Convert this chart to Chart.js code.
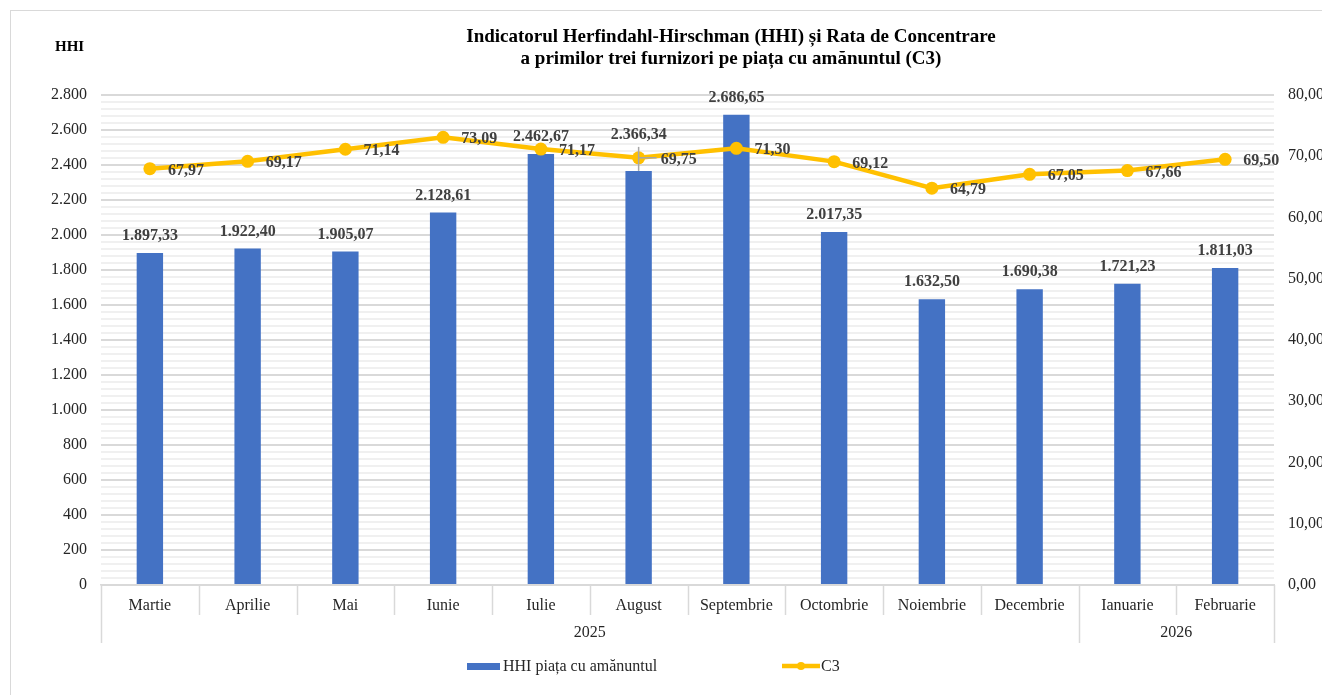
<!DOCTYPE html>
<html>
<head>
<meta charset="utf-8">
<script src="https://cdn.jsdelivr.net/npm/chart.js@4.4.1/dist/chart.umd.min.js"></script>
<style>
  html, body { margin: 0; padding: 0; background: #fff; overflow: hidden; }
  canvas { display: block; }
</style>
</head>
<body>
<canvas id="chart" width="1322" height="695"></canvas>
<script>
var months = ['Martie', 'Aprilie', 'Mai', 'Iunie', 'Iulie', 'August', 'Septembrie',
              'Octombrie', 'Noiembrie', 'Decembrie', 'Ianuarie', 'Februarie'];
var years = [{ label: '2025', from: 0, to: 9 }, { label: '2026', from: 10, to: 11 }];
var hhi = [1897.33, 1922.40, 1905.07, 2128.61, 2462.67, 2366.34, 2686.65,
           2017.35, 1632.50, 1690.38, 1721.23, 1811.03];
var c3 = [67.97, 69.17, 71.14, 73.09, 71.17, 69.75, 71.30, 69.12, 64.79, 67.05, 67.66, 69.50];
var titleLines = ['Indicatorul Herfindahl-Hirschman (HHI) și Rata de Concentrare',
                  'a primilor trei furnizori pe piața cu amănuntul (C3)'];

var BLUE = '#4472C4', GOLD = '#FFC000', GRID = '#d9d9d9', MINOR = '#f0f0f0';
var SERIF = "'Liberation Serif', 'Times New Roman', serif";

// 1.897,33 style numbers
function fmt(v, dec) {
    var parts = v.toFixed(dec).split('.');
    parts[0] = parts[0].replace(/\B(?=(\d{3})+(?!\d))/g, '.');
    return parts.join(',');
}

// chart frame, title and the small "HHI" label
var framePlugin = {
    id: 'frame',
    beforeDraw: function(chart) {
        var ctx = chart.ctx;
        ctx.save();
        ctx.fillStyle = '#fff';
        ctx.fillRect(0, 0, chart.width, chart.height);
        ctx.strokeStyle = GRID;
        ctx.lineWidth = 1;
        ctx.strokeRect(10.5, 10.5, 2000, 2000);
        ctx.fillStyle = '#000';
        ctx.textAlign = 'center';
        ctx.textBaseline = 'alphabetic';
        ctx.font = 'bold 19px ' + SERIF;
        ctx.fillText(titleLines[0], 731, 42);
        ctx.fillText(titleLines[1], 731, 64);
        ctx.font = 'bold 15px ' + SERIF;
        ctx.textAlign = 'left';
        ctx.textBaseline = 'middle';
        ctx.fillText('HHI', 55, 47);
        ctx.restore();
    }
};

// two-level category axis: month dividers + year row
var groupAxisPlugin = {
    id: 'groupAxis',
    afterDraw: function(chart) {
        var ctx = chart.ctx, x = chart.scales.x, area = chart.chartArea;
        var step = (area.right - area.left) / months.length;
        ctx.save();
        ctx.strokeStyle = GRID;
        ctx.lineWidth = 1.5;
        for (var i = 0; i <= months.length; i++) {
            var px = Math.round(area.left + i * step) + 0.5;
            var yearEdge = i === 0 || i === months.length || years.some(function(y) { return y.from === i; });
            ctx.beginPath();
            ctx.moveTo(px, area.bottom);
            ctx.lineTo(px, area.bottom + (yearEdge ? 58 : 30));
            ctx.stroke();
        }
        ctx.fillStyle = '#262626';
        ctx.font = '16px ' + SERIF;
        ctx.textAlign = 'center';
        ctx.textBaseline = 'middle';
        years.forEach(function(y) {
            var cx = (x.getPixelForValue(y.from) + x.getPixelForValue(y.to)) / 2;
            ctx.fillText(y.label, cx, area.bottom + 48);
        });
        ctx.restore();
    }
};

// value labels on bars and points
var labelPlugin = {
    id: 'valueLabels',
    afterDatasetsDraw: function(chart) {
        var ctx = chart.ctx;
        var barMeta = chart.getDatasetMeta(1), lineMeta = chart.getDatasetMeta(0);
        ctx.save();
        ctx.font = 'bold 16px ' + SERIF;
        ctx.fillStyle = '#404040';
        ctx.textBaseline = 'middle';

        barMeta.data.forEach(function(bar, i) {
            var lift = i === 5 ? 36 : 17;
            if (i === 5) {
                // leader line for the displaced August label
                ctx.strokeStyle = '#a6a6a6';
                ctx.lineWidth = 1.5;
                ctx.beginPath();
                ctx.moveTo(bar.x, bar.y - 24);
                ctx.lineTo(bar.x, bar.y);
                ctx.stroke();
            }
            ctx.textAlign = 'center';
            ctx.fillText(fmt(hhi[i], 2), bar.x, bar.y - lift);
        });

        lineMeta.data.forEach(function(pt, i) {
            var dx = i === 5 ? 22 : 18;
            if (i === 5) {
                ctx.strokeStyle = '#a6a6a6';
                ctx.lineWidth = 1.5;
                ctx.beginPath();
                ctx.moveTo(pt.x, pt.y);
                ctx.lineTo(pt.x + dx - 4, pt.y);
                ctx.stroke();
            }
            ctx.textAlign = 'left';
            ctx.fillText(fmt(c3[i], 2), pt.x + dx, pt.y + 2);
        });
        ctx.restore();
    }
};

// legend drawn below the axis
var legendPlugin = {
    id: 'bottomLegend',
    afterDraw: function(chart) {
        var ctx = chart.ctx;
        var ds = chart.data.datasets;
        ctx.save();
        ctx.font = '16px ' + SERIF;
        ctx.textBaseline = 'middle';
        ctx.textAlign = 'left';

        ctx.fillStyle = BLUE;
        ctx.fillRect(467, 663, 33, 7);
        ctx.fillStyle = '#262626';
        ctx.fillText(ds[1].label, 503, 667);

        ctx.strokeStyle = GOLD;
        ctx.lineWidth = 4.5;
        ctx.beginPath();
        ctx.moveTo(782, 666);
        ctx.lineTo(820, 666);
        ctx.stroke();
        ctx.fillStyle = GOLD;
        ctx.beginPath();
        ctx.arc(801, 666, 4, 0, Math.PI * 2);
        ctx.fill();
        ctx.fillStyle = '#262626';
        ctx.fillText(ds[0].label, 821, 667);
        ctx.restore();
    }
};

new Chart(document.getElementById('chart'), {
    data: {
        labels: months,
        datasets: [{
            type: 'line',
            label: 'C3',
            data: c3,
            yAxisID: 'y1',
            borderColor: GOLD,
            backgroundColor: GOLD,
            borderWidth: 4.5,
            pointRadius: 6.5,
            pointBackgroundColor: GOLD,
            pointBorderWidth: 0,
            tension: 0,
            order: 0
        }, {
            type: 'bar',
            label: 'HHI piața cu amănuntul',
            data: hhi,
            yAxisID: 'y',
            backgroundColor: BLUE,
            barPercentage: 0.27,
            categoryPercentage: 1,
            order: 1
        }]
    },
    options: {
        responsive: false,
        animation: false,
        layout: { padding: { top: 95, left: 0, right: 0, bottom: 50 } },
        plugins: {
            legend: { display: false },
            tooltip: { enabled: false },
            title: { display: false }
        },
        scales: {
            x: {
                offset: true,
                grid: { display: false },
                border: { color: GRID, width: 1.5 },
                ticks: {
                    color: '#262626',
                    font: { family: SERIF, size: 16 },
                    padding: 3,
                    maxRotation: 0
                },
                afterFit: function(scale) { scale.height = 60; }
            },
            y: {
                position: 'left',
                min: 0,
                max: 2800,
                border: { display: false },
                grid: {
                    drawTicks: false,
                    lineWidth: 2,
                    color: function(c) {
                        return c.tick && c.tick.value % 200 === 0 ? GRID : MINOR;
                    }
                },
                ticks: {
                    stepSize: 40,
                    maxTicksLimit: 100,
                    autoSkip: false,
                    padding: 14,
                    color: '#262626',
                    font: { family: SERIF, size: 16 },
                    callback: function(v) { return v % 200 === 0 ? fmt(v, 0) : ''; }
                },
                afterFit: function(scale) { scale.width = 101; }
            },
            y1: {
                position: 'right',
                min: 0,
                max: 80,
                border: { display: false },
                grid: { drawOnChartArea: false, drawTicks: false },
                ticks: {
                    stepSize: 10,
                    padding: 14,
                    color: '#262626',
                    font: { family: SERIF, size: 16 },
                    callback: function(v) { return fmt(v, 2); }
                },
                afterFit: function(scale) { scale.width = 48; }
            }
        }
    },
    plugins: [framePlugin, groupAxisPlugin, labelPlugin, legendPlugin]
});
</script>
</body>
</html>
